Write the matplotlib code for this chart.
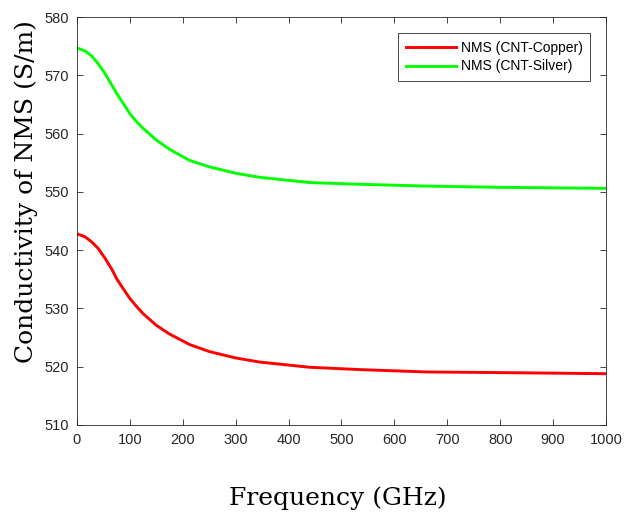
import matplotlib.pyplot as plt

# frequency (GHz)
freq = [0, 15, 28, 40, 53, 66, 75, 88, 100, 113, 125, 150, 175, 213, 250, 300,
        345, 440, 535, 660, 785, 1000]
copper = [542.8, 542.3, 541.4, 540.3, 538.6, 536.7, 535.1, 533.3, 531.7, 530.3, 529.1,
          527.1, 525.6, 523.8, 522.6, 521.5, 520.8, 519.9, 519.5, 519.1, 519.0, 518.8]
silver = [574.7, 574.2, 573.3, 572.0, 570.3, 568.3, 566.9, 565.1, 563.4, 562.0, 560.9,
          558.9, 557.3, 555.4, 554.3, 553.2, 552.5, 551.6, 551.3, 551.0, 550.8, 550.6]

x_ticks = list(range(0, 1001, 100))
y_ticks = list(range(510, 581, 10))

AXIS_COLOR = '#262626'

plt.rcParams['font.family'] = ['Liberation Sans', 'DejaVu Sans']

fig = plt.figure(figsize=(6.3, 5.17), dpi=100)
ax = fig.add_axes([0.1222, 0.178, 0.8397, 0.789])

ax.plot(freq, copper, color='#ff0000', linewidth=2.1, label='NMS (CNT-Copper)')
ax.plot(freq, silver, color='#00ff00', linewidth=2.1, label='NMS (CNT-Silver)')

ax.set_xlim(0, 1000)
ax.set_ylim(510, 580)
ax.set_xticks(x_ticks)
ax.set_yticks(y_ticks)

ax.tick_params(direction='in', top=True, right=True, length=4, width=0.6,
               colors=AXIS_COLOR, labelsize=10.5, pad=6)
for spine in ax.spines.values():
    spine.set_color(AXIS_COLOR)
    spine.set_linewidth(0.6)

ax.set_xlabel('Frequency (GHz)', family='DejaVu Serif', fontsize=18)
ax.set_ylabel('Conductivity of NMS (S/m)', family='DejaVu Serif', fontsize=18)
ax.xaxis.set_label_coords(0.493, -0.15)
ax.yaxis.set_label_coords(-0.095, 0.572)
ax.yaxis.label.set_va('center')

leg = ax.legend(loc='upper right', fontsize=10, fancybox=False, framealpha=1,
                edgecolor=AXIS_COLOR, handlelength=3.6, handletextpad=0.35,
                borderpad=0.55, labelspacing=0.35, borderaxespad=0,
                bbox_to_anchor=(0.970, 0.961))
leg.get_frame().set_linewidth(0.6)

fig.savefig('out.png', dpi=100)
